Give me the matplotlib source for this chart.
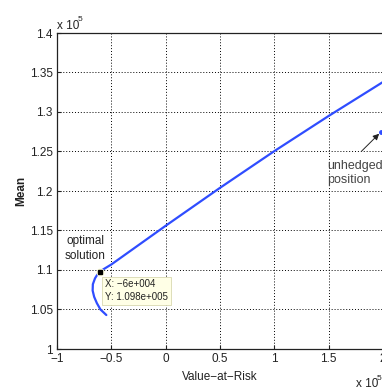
import matplotlib
matplotlib.use("Agg")
import matplotlib.pyplot as plt
from matplotlib.ticker import FixedLocator

# Data in units of 1e5
frontier_var = [-0.546, -0.600, -0.633, -0.658, -0.672, -0.670, -0.650, -0.625, -0.596,
                -0.560, -0.500, 0.000, 0.500, 1.000, 1.500, 2.000]
frontier_mean = [1.043, 1.050, 1.058, 1.066, 1.074, 1.082, 1.0895, 1.095, 1.099,
                 1.102, 1.107, 1.156, 1.204, 1.2505, 1.295, 1.338]
optimal_var, optimal_mean = -0.60, 1.098
unhedged_var, unhedged_mean = 1.983, 1.275

xticks = [-1, -0.5, 0, 0.5, 1, 1.5, 2]
xticklabels = ["\u22121", "\u22120.5", "0", "0.5", "1", "1.5", "2"]
yticks = [1, 1.05, 1.1, 1.15, 1.2, 1.25, 1.3, 1.35, 1.4]
yticklabels = ["1", "1.05", "1.1", "1.15", "1.2", "1.25", "1.3", "1.35", "1.4"]

plt.rcParams['font.family'] = ['Liberation Sans', 'DejaVu Sans']

fig = plt.figure(figsize=(3.82, 3.90), dpi=100)
ax = fig.add_axes([57/382, 1-349/390, (383-57)/382, (349-33)/390])

ax.plot(frontier_var, frontier_mean, color='#2f4dff', lw=1.6, solid_capstyle='round',
        solid_joinstyle='round', zorder=3)
ax.plot([optimal_var], [optimal_mean], 'o', color='#ffffe0', ms=6, zorder=4, markeredgecolor='none')
ax.plot([optimal_var], [optimal_mean], 's', color='black', ms=2.5, zorder=5,
        markeredgecolor='black')
ax.plot([unhedged_var], [unhedged_mean], 'o', color='#2f4dff', ms=2.5, zorder=4)

ax.set_xlim(-1, 2)
ax.set_ylim(1, 1.4)
ax.xaxis.set_major_locator(FixedLocator(xticks))
ax.yaxis.set_major_locator(FixedLocator(yticks))
ax.set_xticklabels(xticklabels)
ax.set_yticklabels(yticklabels)
ax.tick_params(direction='in', length=3, width=0.8, labelsize=8.5, colors='#222222',
               top=False, right=False, pad=3)
ax.grid(True, linestyle=(0, (1, 2)), color='black', lw=0.7)
for s in ax.spines.values():
    s.set_linewidth(0.9)
    s.set_color('#222222')

ax.set_xlabel("Value\u2212at\u2212Risk", fontsize=8.5, color='#222222', labelpad=4)
ax.set_ylabel("Mean", fontsize=8.5, color='#222222', fontweight='bold', labelpad=1.5)

fig.text(57/382, 1-29/390, "x 10", fontsize=8.5, color='#222222', ha='left', va='baseline')
fig.text(78/382, 1-21/390, "5", fontsize=6, color='#222222', ha='left', va='baseline')
fig.text(356/382, 1-387/390, "x 10", fontsize=8.5, color='#222222', ha='left', va='baseline')
fig.text(377/382, 1-380/390, "5", fontsize=6, color='#222222', ha='left', va='baseline')

ax.text(-0.74, 1.127, "optimal\nsolution", fontsize=8.5, color='#222222', ha='center',
        va='center', linespacing=1.35,
        bbox=dict(facecolor='white', edgecolor='none', pad=0.5))
ax.text(-0.56, 1.074, "X: \u22126e+004\nY: 1.098e+005", fontsize=7, color='#222222',
        ha='left', va='center', linespacing=1.28,
        bbox=dict(facecolor='#ffffe6', edgecolor='#d8d8b0', boxstyle='square,pad=0.3', lw=0.6),
        zorder=6)

ax.annotate("", xy=(unhedged_var, unhedged_mean), xytext=(1.804, 1.2506),
            textcoords='data',
            arrowprops=dict(arrowstyle='-|>', color='#222222', lw=0.7,
                            shrinkA=0, shrinkB=2, mutation_scale=9),
            annotation_clip=False)
ax.text(1.485, 1.2228, "unhedged\nposition", fontsize=9, color='#444444',
        ha='left', va='center', linespacing=1.3, clip_on=False)

fig.savefig("out.png", dpi=100)
